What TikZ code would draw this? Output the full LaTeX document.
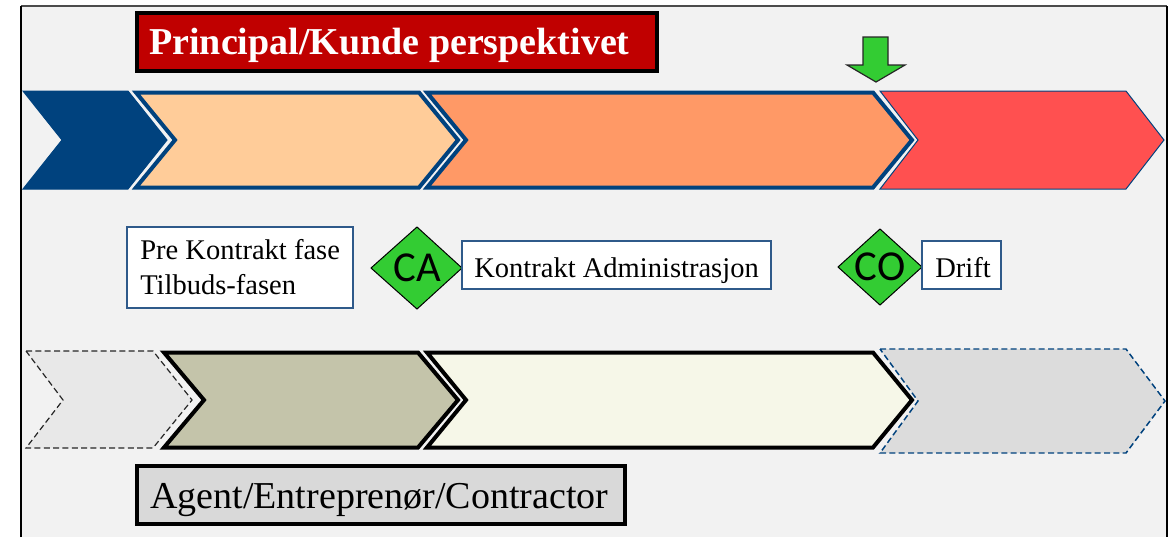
\documentclass[tikz,border=0pt]{standalone}
\usepackage{fontspec}
\setmainfont{Liberation Serif}
\newfontfamily\labelfont{Carlito}
\definecolor{framebg}{HTML}{F2F2F2}
\definecolor{navy}{HTML}{00427E}
\definecolor{peach}{HTML}{FFCC99}
\definecolor{apricot}{HTML}{FF9966}
\definecolor{salmon}{HTML}{FF5050}
\definecolor{signalgreen}{HTML}{33CC33}
\definecolor{titlered}{HTML}{C00000}
\definecolor{olive}{HTML}{C4C4AA}
\definecolor{ivory}{HTML}{F6F7E8}
\definecolor{ghost}{HTML}{E8E8E8}
\definecolor{ghosttwo}{HTML}{DCDCDC}
\definecolor{boxgray}{HTML}{D9D9D9}
\definecolor{boxblue}{HTML}{2F5A8A}
\begin{document}
\begin{tikzpicture}[x=0.75pt,y=-0.75pt,
  line join=miter,
  thinnavy/.style={draw=navy,line width=0.75pt},
  thicknavy/.style={draw=navy,line width=3pt},
  thickblack/.style={draw=black,line width=3pt},
  dashedblack/.style={draw=black!85,line width=0.9pt,dash pattern=on 4.5pt off 2.5pt},
  dashednavy/.style={draw=navy,line width=1.1pt,dash pattern=on 4.5pt off 2.5pt},
  infobox/.style={draw=boxblue,line width=1.1pt,fill=white},
  bodytext/.style={inner sep=0pt,anchor=base west,font=\fontsize{21.4}{26}\selectfont},
  bigtext/.style={inner sep=0pt,anchor=base west,font=\fontsize{28.5}{34}\selectfont},
  marker/.style={draw=black,line width=0.75pt,fill=signalgreen},
  markertext/.style={inner sep=0pt,font=\labelfont\fontsize{32}{36}\selectfont}]

\useasboundingbox (0,0) rectangle (1174,537);

% frame
\fill[framebg] (21,6) rectangle (1167,537);
\draw[black!70,line width=1.1pt] (21,6) -- (1167,6);
\draw[black,line width=1.6pt] (21,537) -- (21,6);
\draw[black,line width=1.6pt] (1167,6) -- (1167,537);

% principal / customer heading
\draw[titlered,fill=titlered] (137,13) rectangle (657,71);
\draw[black,line width=3pt] (137,13) rectangle (657,71);
\node[bigtext,text=white,font=\bfseries\fontsize{28.5}{34}\selectfont] (principal) at (149,54) {Principal/Kunde perspektivet};

% upper phase chevrons
\filldraw[fill=navy,thinnavy] (23,91) -- (128,91) -- (167,140) -- (128,189) -- (23,189) -- (62,140) -- cycle;
\filldraw[fill=peach,thicknavy] (136,92.5) -- (419,92.5) -- (458,140) -- (419,187.5) -- (136,187.5) -- (175,140) -- cycle;
\filldraw[fill=apricot,thicknavy] (427,92.5) -- (873,92.5) -- (912,140) -- (873,187.5) -- (427,187.5) -- (466,140) -- cycle;
\filldraw[fill=salmon,thinnavy] (880,91) -- (1126,91) -- (1164,140) -- (1126,189) -- (880,189) -- (918,140) -- cycle;

% hand-over marker
\filldraw[fill=signalgreen,draw=black!85,line width=0.9pt] (863,37) -- (888,37) -- (888,65) -- (905,65) -- (876,82) -- (847,65) -- (863,65) -- cycle;

% phase labels
\draw[infobox] (127,227) rectangle (353,308);
\node[bodytext] (pre) at (140,259) {Pre Kontrakt fase};
\node[bodytext] (tilbud) at (140,294) {Tilbuds-fasen};

\draw[marker] (371,268) -- (417,227) -- (462,268) -- (417,309) -- cycle;
\node[markertext] (ca) at (417,268) {CA};

\draw[infobox] (462,241) rectangle (771,289);
\node[bodytext] (kontrakt) at (474,277) {Kontrakt Administrasjon};

\draw[marker] (838,267) -- (880,229) -- (922,267) -- (880,305) -- cycle;
\node[markertext] (co) at (880,267) {CO};

\draw[infobox] (922,241) rectangle (1001,289);
\node[bodytext] (drift) at (935,277) {Drift};

% lower phase chevrons
\filldraw[fill=ghost,dashedblack] (26,351) -- (153,351) -- (192,400) -- (153,448) -- (26,448) -- (63,400) -- cycle;
\filldraw[fill=olive,thickblack] (164,352.5) -- (418,352.5) -- (458,400) -- (418,447.5) -- (164,447.5) -- (204,400) -- cycle;
\filldraw[fill=ivory,thickblack] (427,352.5) -- (873,352.5) -- (912,400) -- (873,447.5) -- (427,447.5) -- (466,400) -- cycle;
\filldraw[fill=ghosttwo,dashednavy] (880,349) -- (1126,349) -- (1165,401) -- (1126,453) -- (880,453) -- (918,401) -- cycle;

% agent / contractor heading
\draw[boxgray,fill=boxgray] (137,466) rectangle (625,524);
\draw[black,line width=3pt] (137,466) rectangle (625,524);
\node[bigtext] (agent) at (150,508) {Agent/Entreprenør/Contractor};

\end{tikzpicture}
\end{document}
